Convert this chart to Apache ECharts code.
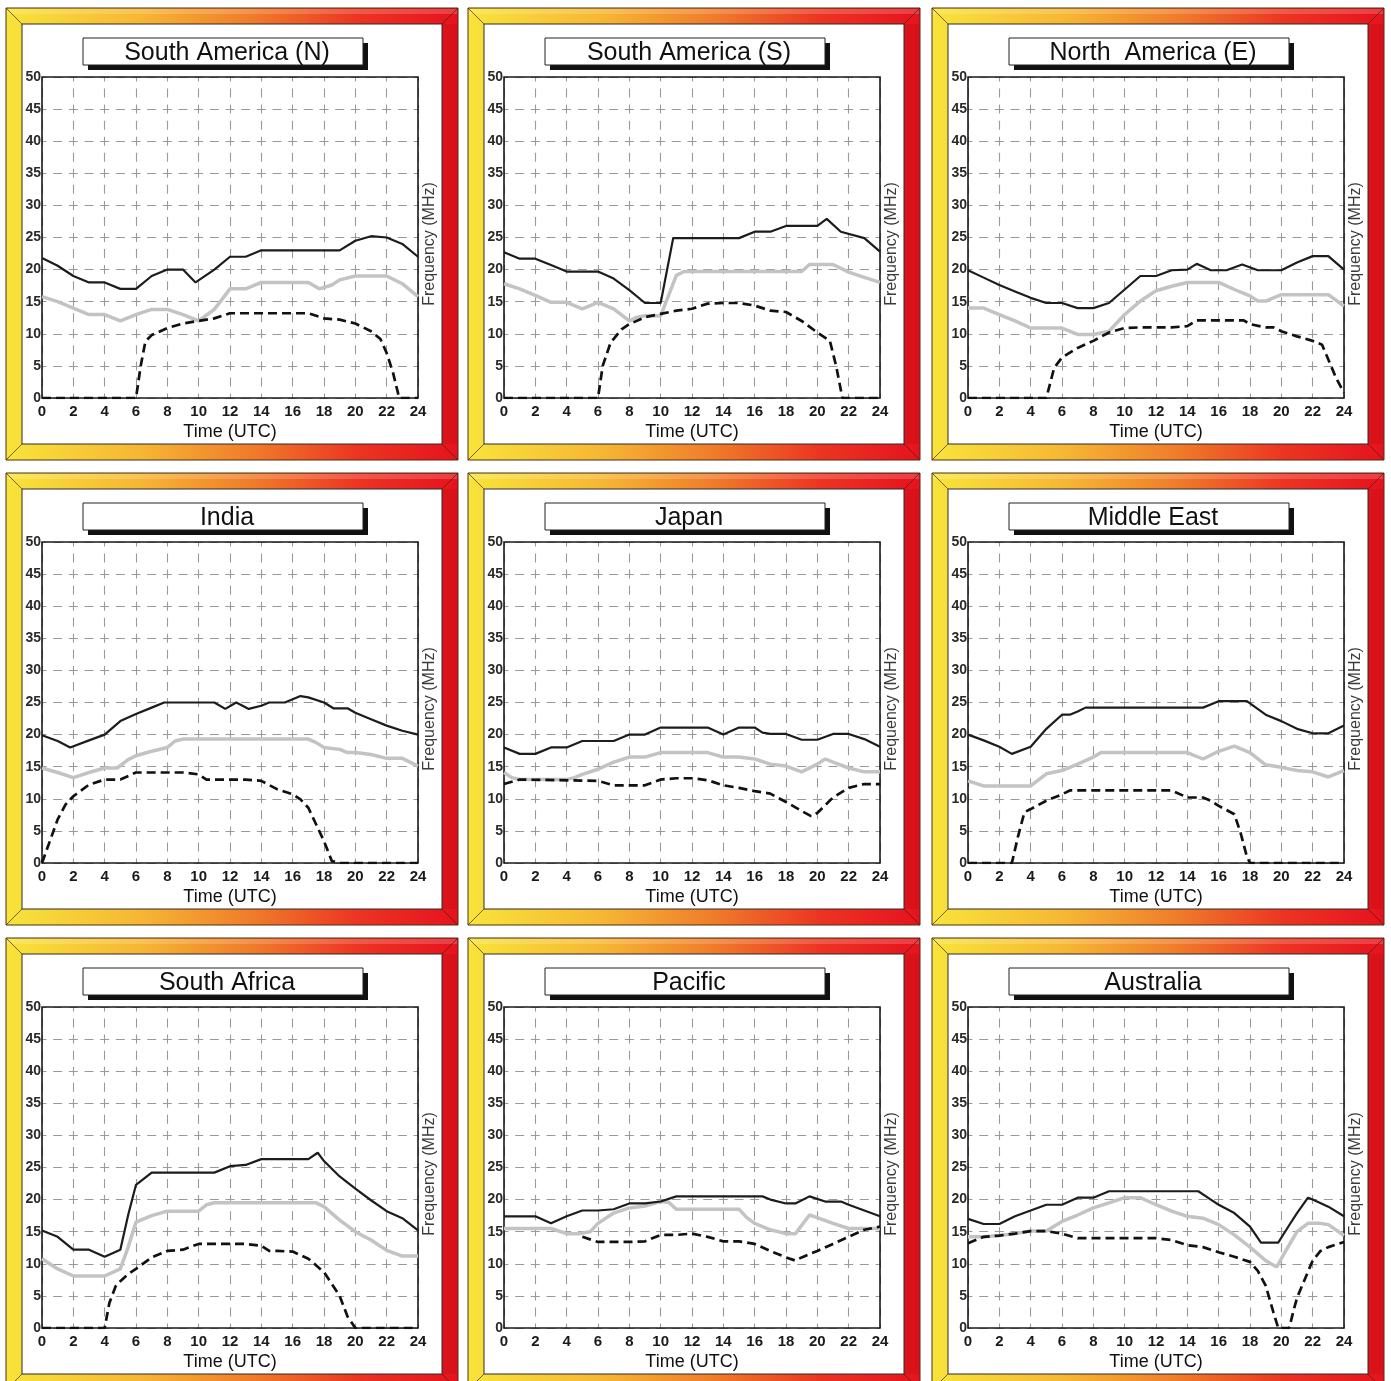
<!DOCTYPE html>
<html><head><meta charset="utf-8">
<script src="https://cdn.jsdelivr.net/npm/echarts@6/dist/echarts.min.js"></script>
<style>html,body{margin:0;padding:0;background:#fff}#c{width:1391px;height:1381px}</style>
</head><body><div id="c"></div><script>
// ---- titles and tick labels ----
const titles = ['South America (N)', 'South America (S)', 'North  America (E)', 'India', 'Japan', 'Middle East', 'South Africa', 'Pacific', 'Australia'];
const xAxisTitle = 'Time (UTC)';
const yAxisTitle = 'Frequency (MHz)';

// ---- series values: [hour UTC, MHz] ----
const saN_muf = [[0,21.8],[1,20.6],[2,19],[3,18],[4,18],[5,17],[6,17],[7,19],[8,20],[9,20],[9.8,18],[11,20],[12,22],[13,22],[14,23],[15,23],[16,23],[17,23],[18,23],[19,23],[20,24.5],[21,25.2],[22,25],[23,24],[24,22]];
const saN_grey = [[0,15.8],[1,15],[2,14],[3,13],[4,13],[5,12],[6,13],[7,13.8],[8,13.8],[9,13],[10,12],[11,13.8],[12,17],[13,17],[14,18],[15,18],[16,18],[17,18],[17.7,17],[18.5,17.6],[19,18.4],[20,19],[21,19],[22,19],[23,17.8],[24,15.8]];
const saN_luf = [[0,0],[6,0],[6.3,5],[6.6,8.8],[7,9.8],[8,10.9],[9,11.6],[10,12],[11,12.4],[12,13.2],[13,13.2],[14,13.2],[15,13.2],[16,13.2],[17,13.2],[18,12.4],[19,12.2],[20,11.6],[21,10.4],[21.6,9.2],[22,7],[22.4,4],[22.8,0],[24,0]];

const saS_muf = [[0,22.7],[1,21.7],[2,21.7],[3,20.7],[4,19.7],[5,19.7],[6,19.7],[7,18.6],[8,16.8],[9,14.8],[10,14.8],[10.8,24.9],[12,24.9],[13,24.9],[14,24.9],[15,24.9],[16,25.9],[17,25.9],[18,26.8],[19,26.8],[20,26.8],[20.6,27.9],[21.5,25.9],[23,24.9],[24,22.8]];
const saS_grey = [[0,17.8],[1,17],[2,16],[3,14.9],[4,14.9],[5,13.9],[6,14.9],[7,13.9],[8,12],[8.5,12.6],[9,12.8],[10,12.8],[11,19.1],[11.5,19.7],[19,19.7],[19.5,20.8],[21,20.8],[22,19.6],[23,18.8],[24,18]];
const saS_luf = [[0,0],[6,0],[6.3,5],[6.8,8.6],[7.5,10.7],[8,11.5],[9,12.6],[10,13.1],[11,13.6],[12,13.9],[13,14.7],[14,14.8],[15,14.8],[16,14.4],[17,13.6],[18,13.4],[19,12],[20,10.2],[20.8,8.9],[21.2,5],[21.6,0],[24,0]];

const naE_muf = [[0,19.9],[1,18.75],[2,17.6],[3,16.6],[4,15.6],[5,14.8],[6,14.8],[7,14],[8,14],[9,14.8],[10,16.9],[11,19],[12,19],[13,19.9],[14,20],[14.6,20.9],[15.5,19.9],[16.5,19.9],[17.5,20.8],[18.5,19.9],[20,19.9],[21,21.1],[22,22.1],[23,22.1],[24,20]];
const naE_grey = [[0,14],[1,14],[2,13],[3,12],[4,10.9],[5,10.9],[6,10.9],[7,9.9],[8,9.9],[9,10.4],[10,13],[11,15.1],[12,16.7],[13,17.4],[14,18],[15,18],[16,18],[17,16.9],[18,15.9],[18.5,15.1],[19,15.1],[20,16.1],[21,16.1],[22,16.1],[23,16.1],[24,14.3]];
const naE_luf = [[0,0],[5,0],[5.5,4.7],[6,6.3],[7,7.8],[8,8.9],[9,10.2],[10,10.9],[11,11],[12,11],[13,11],[14,11.2],[14.6,12.1],[15,12.1],[16,12.1],[17,12.1],[17.6,12.1],[18,11.5],[19,11],[19.5,11],[20,10.4],[21,9.6],[22,8.9],[22.6,8.3],[23.5,3.1],[24,0.8]];

const ind_muf = [[0,19.9],[1,19],[1.8,18],[3,19.1],[4,20],[5,22.1],[6,23.2],[7,24.2],[7.8,25],[11,25],[11.7,24],[12.4,25],[13.2,24],[14,24.5],[14.5,25],[15.5,25],[16.5,26],[17,25.8],[18,25],[18.6,24.1],[19.5,24.1],[20,23.4],[21,22.4],[22,21.4],[23,20.6],[24,20]];
const ind_grey = [[0,14.8],[1,14.1],[2,13.3],[3,14.1],[4,14.8],[4.8,14.8],[5.5,16.1],[6,16.7],[7,17.4],[8,18],[8.5,19],[9,19.3],[17,19.3],[17.5,18.75],[18,18],[19,17.7],[19.5,17.2],[20,17.2],[21,16.9],[22,16.3],[23,16.3],[24,15.1]];
const ind_luf = [[0,0],[0.5,3.4],[1,6.8],[1.5,9.1],[2,10.4],[3,12.2],[4,13],[5,13],[6,14.1],[9,14.1],[10,13.8],[10.5,13],[13,13],[14,12.8],[15,11.5],[16,10.7],[16.5,9.9],[17,8.6],[17.5,6],[18,3.4],[18.5,0.3],[19,0],[24,0]];

const jpn_muf = [[0,18],[1,17],[2,17],[3,18],[4,18],[5,19],[6,19],[7,19],[8,20],[9,20],[10,21.1],[11,21.1],[12,21.1],[13,21.1],[14,20],[15,21.1],[16,21.1],[16.5,20.3],[17,20.1],[18,20.1],[19,19.2],[20,19.2],[21,20.1],[22,20.1],[23,19.3],[24,18.1]];
const jpn_grey = [[0,14.1],[0.5,13.3],[1,13],[4,13],[4.5,13.3],[5,13.8],[6,14.6],[7,15.7],[8,16.5],[9,16.5],[10,17.2],[13,17.2],[14,16.5],[15,16.5],[16,16.2],[17,15.4],[18,15.1],[19,14.2],[20,15.4],[20.5,16.2],[21,15.7],[22,14.8],[23,14.2],[24,14.2]];
const jpn_luf = [[0,12.3],[1,13],[6,12.8],[7,12.1],[9,12.1],[10,13],[11,13.2],[12,13.2],[13,12.9],[14,12.1],[15,11.7],[16,11.2],[17,10.8],[18,9.5],[19,8.1],[19.6,7.3],[20,7.8],[21,10.2],[22,11.7],[23,12.3],[24,12.3]];

const mde_muf = [[0,20],[1,19.1],[2,18.1],[2.8,17],[4,18.1],[5,20.9],[6,23.1],[6.5,23.1],[7,23.6],[7.5,24.2],[15,24.2],[16,25.2],[17.8,25.2],[19,23.1],[20,22.1],[21,20.9],[22,20.2],[23,20.2],[24,21.4]];
const mde_grey = [[0,12.8],[1,12],[4,12],[5,13.9],[6,14.4],[7,15.4],[8,16.5],[8.5,17.2],[14,17.2],[15,16.2],[16,17.4],[17,18.2],[18,17.2],[19,15.3],[20,14.9],[21,14.4],[22,14.2],[23,13.4],[24,14.4]];
const mde_luf = [[0,0],[2.8,0],[3.2,4.2],[3.6,7.9],[4,8.4],[5,9.7],[6,10.7],[6.5,11.3],[13,11.3],[14,10.2],[15,10.2],[15.5,9.7],[16,8.9],[17,7.6],[17.4,4.7],[17.8,1],[18,0],[24,0]];

const saf_muf = [[0,15.2],[1,14.2],[2,12.2],[3,12.2],[4,11.1],[5,12.2],[5.5,17.6],[6,22.3],[7,24.2],[11,24.2],[12,25.2],[13,25.4],[14,26.3],[17,26.3],[17.6,27.3],[18,26],[19,23.6],[20,21.7],[21,19.9],[22,18.2],[23,17.1],[24,15.2]];
const saf_grey = [[0,10.8],[1,9.2],[2,8.1],[4,8.1],[5,9.2],[5.5,12.6],[6,16.5],[7,17.5],[8,18.2],[10,18.2],[10.5,19.2],[11,19.5],[17.5,19.5],[18,18.9],[19,16.8],[20,15],[21,13.7],[22,12.1],[23,11.2],[24,11.2]];
const saf_luf = [[0,0],[4,0],[4.3,3.9],[4.7,6.5],[5,7.3],[5.5,8.4],[6,9.2],[7,11],[8,12],[9,12.2],[10,13.1],[13,13.1],[14,12.8],[14.5,12],[15,12],[16,11.9],[17,10.8],[18,8.7],[19,5],[19.5,1.8],[20,0],[24,0]];

const pac_muf = [[0,17.4],[2,17.4],[3,16.3],[4,17.4],[5,18.3],[6,18.3],[7,18.5],[8,19.4],[9,19.4],[10,19.7],[11,20.5],[16.5,20.5],[17,20],[18,19.4],[18.6,19.4],[19.5,20.5],[20.5,19.7],[21.5,19.7],[22,19.2],[23,18.3],[24,17.4]];
const pac_grey = [[0,15.5],[3,15.5],[4,14.7],[4.8,14.7],[5.5,15],[6,16.3],[7,17.9],[8,18.7],[9,19],[10,19.7],[10.5,19.6],[11,18.5],[15,18.5],[15.5,17.2],[16,16.3],[17,15.3],[18,14.7],[18.6,14.7],[19.5,17.6],[20,17.2],[21,16.3],[22,15.5],[24,15.5]];
const pac_luf = [[5,14.2],[6,13.4],[8,13.4],[9,13.5],[10,14.5],[11,14.5],[12,14.7],[13,14.2],[14,13.5],[15,13.5],[16,13.1],[17,12],[18,11],[18.6,10.5],[19,11],[20,12],[21,13.1],[22,14.2],[23,15.3],[24,15.8]];

const aus_muf = [[0,17],[1,16.2],[2,16.2],[3,17.4],[4,18.3],[5,19.2],[6,19.2],[7,20.3],[8,20.3],[9,21.3],[14.7,21.3],[15.5,20],[16,19.2],[17,17.9],[18,15.8],[18.7,13.3],[19.8,13.3],[20.5,16],[21,17.9],[21.7,20.3],[22,20],[23,18.9],[24,17.4]];
const aus_grey = [[0,14.2],[1,14.2],[2,14.4],[3,14.7],[4,15.1],[5,15.1],[6,16.6],[7,17.6],[8,18.7],[9,19.5],[10,20.3],[11,20.3],[12,19.2],[13,18.2],[14,17.4],[15,17.1],[16,16.1],[17,14.5],[18,12.6],[19,10.5],[19.7,9.5],[20.3,12.1],[21,15],[21.7,16.3],[22.5,16.3],[23,16.1],[24,14.4]];
const aus_luf = [[0,13.2],[1,14.2],[2,14.4],[3,14.7],[4,15.1],[5,15.1],[6,14.7],[7,14],[12,14],[13,13.7],[14,12.9],[15,12.6],[16,11.8],[17,11.1],[18,10.3],[18.5,8.9],[19,6.6],[19.5,2.4],[19.8,0],[20.5,0],[20.8,2.9],[21,4.7],[21.5,7.6],[22,10.5],[22.5,12],[23,12.6],[24,13.4]];

const panels = [
  {title: titles[0], muf: saN_muf, grey: saN_grey, luf: saN_luf},
  {title: titles[1], muf: saS_muf, grey: saS_grey, luf: saS_luf},
  {title: titles[2], muf: naE_muf, grey: naE_grey, luf: naE_luf},
  {title: titles[3], muf: ind_muf, grey: ind_grey, luf: ind_luf},
  {title: titles[4], muf: jpn_muf, grey: jpn_grey, luf: jpn_luf},
  {title: titles[5], muf: mde_muf, grey: mde_grey, luf: mde_luf},
  {title: titles[6], muf: saf_muf, grey: saf_grey, luf: saf_luf},
  {title: titles[7], muf: pac_muf, grey: pac_grey, luf: pac_luf},
  {title: titles[8], muf: aus_muf, grey: aus_grey, luf: aus_luf}
];

// ---- layout ----
const colX = [6, 468, 932];
const rowY = [8, 473, 938];
const P = 452, B = 16;
const GW = 376, GH = 321;
const FONT = '"Liberation Sans", Arial, sans-serif';

const grids = [], xAxes = [], yAxes = [], series = [], graphics = [];
const frameFill = {type:'linear', x:0, y:0, x2:1, y2:0, colorStops:[
  {offset:0, color:'#f8e43a'}, {offset:0.3, color:'#f6b634'}, {offset:0.55, color:'#f07a2a'},
  {offset:0.78, color:'#ec3422'}, {offset:1, color:'#e6121e'}]};

const hPeriod = GW / 24, vPeriod = GH / 20;

panels.forEach((p, i) => {
  const x0 = colX[i % 3], y0 = rowY[Math.floor(i / 3)];
  // frame
  graphics.push({type:'rect', z:-20, shape:{x:x0, y:y0, width:P, height:P}, style:{fill:frameFill, stroke:'#4a3010', lineWidth:1}});
  graphics.push({type:'rect', z:-19, shape:{x:x0+1, y:y0+1, width:P-2, height:5}, style:{fill:'rgba(255,255,255,0.18)'}});
  graphics.push({type:'rect', z:-19, shape:{x:x0+P-B, y:y0+B, width:B-1, height:P-2*B}, style:{fill:'rgba(120,0,0,0.12)'}});
  graphics.push({type:'rect', z:-18, shape:{x:x0+B, y:y0+B, width:P-2*B, height:P-2*B}, style:{fill:'#fff', stroke:'#2a2a2a', lineWidth:1}});
  [[0,0,B,B],[P,0,P-B,B],[0,P,B,P-B],[P,P,P-B,P-B]].forEach(c => {
    graphics.push({type:'line', z:-17, shape:{x1:x0+c[0], y1:y0+c[1], x2:x0+c[2], y2:y0+c[3]}, style:{stroke:'rgba(70,35,0,0.7)', lineWidth:1}});
  });
  // title box
  graphics.push({type:'rect', z:5, shape:{x:x0+82, y:y0+35, width:280, height:27}, style:{fill:'#111'}});
  graphics.push({type:'rect', z:6, shape:{x:x0+77, y:y0+30, width:280, height:27}, style:{fill:'#fff', stroke:'#222', lineWidth:1}});
  graphics.push({type:'text', z:7, x:x0+221, y:y0+45, style:{text:p.title, x:0, y:0, textAlign:'center', textVerticalAlign:'middle', align:'center', verticalAlign:'middle', font:'25px ' + FONT, fill:'#111'}});
  // right-hand axis title
  graphics.push({type:'text', z:7, x:x0+424, y:y0+236, rotation:Math.PI/2, style:{text:yAxisTitle, x:0, y:0, textAlign:'center', textVerticalAlign:'middle', align:'center', verticalAlign:'middle', font:'16px ' + FONT, fill:'#3a3a3a'}});

  grids.push({left:x0+36, top:y0+69, width:GW, height:GH, show:true, borderColor:'#1a1a1a', borderWidth:1.6, backgroundColor:'transparent', z:3});
  xAxes.push({gridIndex:i, type:'value', min:0, max:24, interval:2,
    axisLine:{show:false}, axisTick:{show:false},
    axisLabel:{color:'#1a1a1a', fontSize:15, fontWeight:'bold', margin:6, fontFamily:FONT},
    splitLine:{show:true, lineStyle:{color:'#9a9a9a', width:1.1, type:[9, vPeriod-9], dashOffset:4.5}},
    name:xAxisTitle, nameLocation:'middle', nameGap:25, nameTextStyle:{fontSize:18, color:'#111', fontFamily:FONT}});
  yAxes.push({gridIndex:i, type:'value', min:0, max:50, interval:5,
    axisLine:{show:false}, axisTick:{show:false},
    axisLabel:{color:'#2a2a2a', fontSize:14, fontWeight:'bold', margin:1, fontFamily:FONT},
    splitLine:{show:true, lineStyle:{color:'#9a9a9a', width:1.1, type:[9, hPeriod-9], dashOffset:4.5}}});
  series.push({type:'line', xAxisIndex:i, yAxisIndex:i, data:p.grey, showSymbol:false, z:3, lineStyle:{color:'#c3c3c3', width:3.5}, silent:true});
  series.push({type:'line', xAxisIndex:i, yAxisIndex:i, data:p.muf, showSymbol:false, z:4, lineStyle:{color:'#1c1c1c', width:2.2}, silent:true});
  series.push({type:'line', xAxisIndex:i, yAxisIndex:i, data:p.luf, showSymbol:false, z:5, lineStyle:{color:'#111', width:2.7, type:[9,5]}, silent:true});
});

const chart = echarts.init(document.getElementById('c'), null, {renderer:'canvas'});
chart.setOption({animation:false, backgroundColor:'#fff', grid:grids, xAxis:xAxes, yAxis:yAxes, series:series, graphic:{elements:graphics}});
</script></body></html>
